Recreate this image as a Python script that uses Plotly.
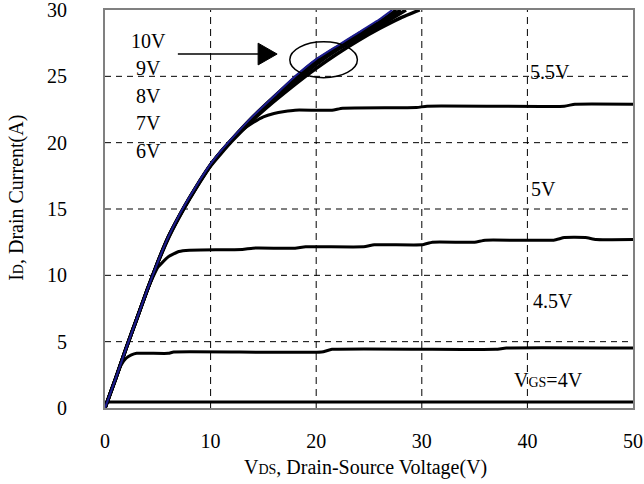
import plotly.graph_objects as go

# Output characteristics: drain current vs drain-source voltage for each gate voltage
vds_10v = [0, 1, 2, 3, 4, 5, 6, 7, 8, 9, 10, 11, 12, 14, 16, 18, 20, 22, 24, 26, 27.2]
id_10v = [0, 2.2, 4.5, 6.7, 8.9, 11.0, 12.9, 14.5, 15.9, 17.2, 18.4, 19.4, 20.3, 22.0, 23.5, 25.0, 26.3, 27.3, 28.3, 29.3, 30.0]

vds_9v = [0, 1, 2, 3, 4, 5, 6, 7, 8, 9, 10, 11, 12, 14, 16, 18, 20, 22, 24, 26, 27.6]
id_9v = [0, 2.2, 4.5, 6.7, 8.9, 11.0, 12.9, 14.45, 15.85, 17.15, 18.35, 19.35, 20.25, 21.95, 23.45, 24.9, 26.2, 27.2, 28.2, 29.1, 30.0]

vds_8v = [0, 1, 2, 3, 4, 5, 6, 7, 8, 9, 10, 11, 12, 14, 16, 18, 20, 22, 24, 26, 28.0]
id_8v = [0, 2.2, 4.5, 6.7, 8.9, 11.0, 12.9, 14.4, 15.8, 17.1, 18.3, 19.3, 20.2, 21.9, 23.4, 24.8, 26.0, 27.1, 28.0, 28.9, 30.0]

vds_7v = [0, 1, 2, 3, 4, 5, 6, 7, 8, 9, 10, 11, 12, 14, 16, 18, 20, 22, 24, 26, 28.5]
id_7v = [0, 2.2, 4.5, 6.7, 8.9, 11.0, 12.85, 14.4, 15.8, 17.1, 18.3, 19.3, 20.2, 21.85, 23.3, 24.6, 25.9, 27.0, 27.9, 28.8, 30.0]

vds_6v = [0, 1, 2, 3, 4, 5, 6, 7, 8, 9, 10, 11, 12, 14, 16, 18, 20, 22, 24, 26, 28, 29.8]
id_6v = [0, 2.2, 4.5, 6.7, 8.9, 10.95, 12.8, 14.35, 15.75, 17.05, 18.25, 19.2, 20.1, 21.7, 23.1, 24.4, 25.6, 26.7, 27.7, 28.6, 29.4, 30.0]

vds_5v5 = [0, 1, 2, 3, 4, 5, 6, 7, 8, 9, 10, 11, 12, 13, 14, 15, 16, 17, 18, 21.5, 22.5, 29.5, 30.5, 43.5, 44.5, 50]
id_5v5 = [0, 2.2, 4.5, 6.7, 8.9, 11.0, 12.9, 14.45, 15.85, 17.15, 18.35, 19.35, 20.2, 20.95, 21.5, 21.95, 22.2, 22.35, 22.45, 22.45, 22.6, 22.65, 22.75, 22.75, 22.9, 22.9]

vds_5v = [0, 1, 2, 3, 4, 4.5, 5, 6, 7, 8, 13, 14, 18, 19, 24.5, 25.5, 30, 31, 35, 36, 42.5, 43.5, 45.5, 46.5, 50]
id_5v = [0, 2.2, 4.5, 6.7, 8.9, 9.8, 10.6, 11.4, 11.8, 11.9, 11.95, 12.05, 12.05, 12.15, 12.15, 12.3, 12.3, 12.5, 12.5, 12.65, 12.65, 12.85, 12.85, 12.7, 12.7]

vds_4v5 = [0, 1, 1.5, 2, 2.5, 3, 6, 6.5, 20.5, 21.5, 37, 38, 50]
id_4v5 = [0, 2.2, 3.2, 3.75, 4.0, 4.12, 4.12, 4.22, 4.22, 4.42, 4.42, 4.52, 4.52]

vds_4v = [0, 0.2, 50]
id_4v = [0, 0.45, 0.45]

x_ticks = [0, 10, 20, 30, 40, 50]
y_ticks = [0, 5, 10, 15, 20, 25, 30]

SERIF = "Liberation Serif, Times New Roman, serif"
BLACK = "#000000"
NAVY = "#1c1c8e"
FRAME = "#808080"

fig = go.Figure()

curves = [
    ("VGS=4V", vds_4v, id_4v, BLACK, 3, "linear"),
    ("VGS=4.5V", vds_4v5, id_4v5, BLACK, 3, "spline"),
    ("VGS=5V", vds_5v, id_5v, BLACK, 3, "spline"),
    ("VGS=5.5V", vds_5v5, id_5v5, BLACK, 3, "spline"),
    ("VGS=6V", vds_6v, id_6v, BLACK, 3.5, "spline"),
    ("VGS=7V", vds_7v, id_7v, BLACK, 3.5, "spline"),
    ("VGS=8V", vds_8v, id_8v, BLACK, 3.5, "spline"),
    ("VGS=9V", vds_9v, id_9v, BLACK, 3.5, "spline"),
    ("VGS=10V", vds_10v, id_10v, NAVY, 2, "spline"),
]
for name, xs, ys, color, width, shape in curves:
    line = dict(color=color, width=width, shape=shape)
    if shape == "spline":
        line["smoothing"] = 0.4
    fig.add_trace(go.Scatter(x=xs, y=ys, mode="lines", name=name, line=line, hoverinfo="skip"))

shapes = []
# dashed grid
for xv in x_ticks[1:-1]:
    shapes.append(dict(type="line", xref="x", yref="y", x0=xv, x1=xv, y0=0, y1=30,
                       line=dict(color=BLACK, width=1, dash="7px,5px"), layer="below"))
for yv in y_ticks[1:-1]:
    shapes.append(dict(type="line", xref="x", yref="y", x0=0, x1=50, y0=yv, y1=yv,
                       line=dict(color=BLACK, width=1, dash="6px,5px"), layer="below"))
# ellipse around the overlapping high-VGS curves
shapes.append(dict(type="circle", xref="x", yref="y", x0=17.5, x1=23.9, y0=24.9, y1=27.6,
                   line=dict(color=BLACK, width=1.5)))
# arrow pointing at the ellipse
shapes.append(dict(type="line", xref="x", yref="y", x0=6.9, x1=14.8, y0=26.68, y1=26.68,
                   line=dict(color=BLACK, width=1.5)))
shapes.append(dict(type="path", xref="x", yref="y",
                   path="M 14.5 27.5 L 16.3 26.68 L 14.5 25.86 Z",
                   fillcolor=BLACK, line=dict(color=BLACK, width=1)))

small = "<span style='font-size:14px'>{}</span>"
annotations = []
for txt, yv in [("10V", 27.7), ("9V", 25.6), ("8V", 23.5), ("7V", 21.5), ("6V", 19.35)]:
    annotations.append(dict(x=4.1, y=yv, text=txt, showarrow=False, xanchor="center",
                            yanchor="middle", font=dict(family=SERIF, size=20, color=BLACK)))
for txt, xv, yv in [("5.5V", 42.1, 25.3), ("5V", 41.5, 16.5), ("4.5V", 42.4, 8.1),
                    ("V" + small.format("GS") + "=4V", 42.0, 2.1)]:
    annotations.append(dict(x=xv, y=yv, text=txt, showarrow=False, xanchor="center",
                            yanchor="middle", font=dict(family=SERIF, size=20, color=BLACK)))

annotations.append(dict(xref="paper", yref="paper", x=0.494, y=0, yshift=-59,
                        text="V" + small.format("DS") + ", Drain-Source Voltage(V)",
                        showarrow=False, xanchor="center", yanchor="middle",
                        font=dict(family=SERIF, size=20, color=BLACK)))
annotations.append(dict(xref="paper", yref="paper", x=0, xshift=-88, y=0.528,
                        text="I" + small.format("D") + ", Drain Current(A)",
                        textangle=-90, showarrow=False, xanchor="center", yanchor="middle",
                        font=dict(family=SERIF, size=20, color=BLACK)))

# grey mirrored axes form the frame; black axes on the left and bottom sit on top of them
frame_axis = dict(showline=True, linecolor=FRAME, linewidth=2, mirror=True,
                  showticklabels=False, ticks="", showgrid=False, zeroline=False,
                  automargin=False)

fig.add_trace(go.Scatter(x=[None], y=[None], xaxis="x2", yaxis="y2",
                         showlegend=False, hoverinfo="skip"))

fig.update_layout(
    width=644, height=484,
    margin=dict(l=105, r=11, t=10, b=76, autoexpand=False),
    paper_bgcolor="white", plot_bgcolor="white",
    showlegend=False,
    shapes=shapes, annotations=annotations,
    xaxis=dict(range=[0, 50], tickvals=x_ticks, showgrid=False, zeroline=False,
               showline=True, linecolor=BLACK, linewidth=2, ticks="",
               automargin=False, ticklabelstandoff=14, ticklabeloverflow="allow",
               tickfont=dict(family=SERIF, size=20, color=BLACK)),
    yaxis=dict(range=[0, 30], tickvals=y_ticks, showgrid=False, zeroline=False,
               showline=True, linecolor=BLACK, linewidth=2, ticks="",
               automargin=False, ticklabelstandoff=32, ticklabeloverflow="allow",
               tickfont=dict(family=SERIF, size=20, color=BLACK)),
    xaxis2=dict(range=[0, 50], overlaying="x", side="top", anchor="y2", **frame_axis),
    yaxis2=dict(range=[0, 30], overlaying="y", side="right", anchor="x2", **frame_axis),
)

fig.write_html("out.html")
